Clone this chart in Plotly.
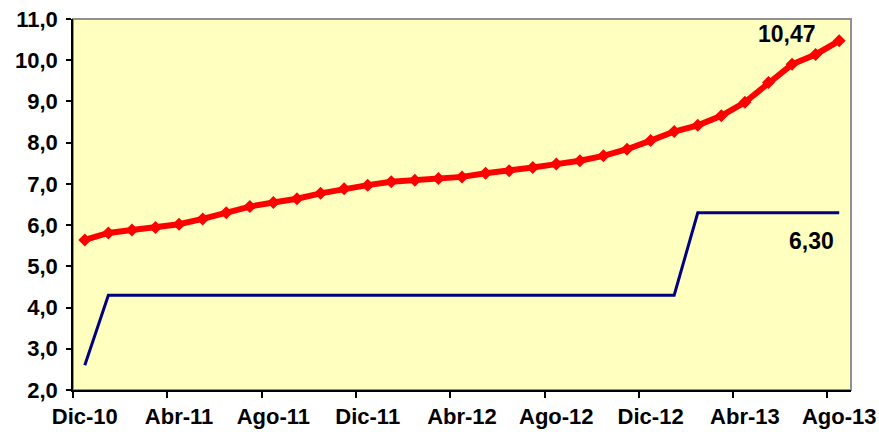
import plotly.graph_objects as go

months = ["Dic-10", "Ene-11", "Feb-11", "Mar-11", "Abr-11", "May-11", "Jun-11", "Jul-11",
          "Ago-11", "Sep-11", "Oct-11", "Nov-11", "Dic-11", "Ene-12", "Feb-12", "Mar-12",
          "Abr-12", "May-12", "Jun-12", "Jul-12", "Ago-12", "Sep-12", "Oct-12", "Nov-12",
          "Dic-12", "Ene-13", "Feb-13", "Mar-13", "Abr-13", "May-13", "Jun-13", "Jul-13",
          "Ago-13"]

red_series = [5.64, 5.81, 5.88, 5.94, 6.02, 6.15, 6.30, 6.45, 6.55, 6.64, 6.77, 6.88,
              6.97, 7.05, 7.09, 7.13, 7.17, 7.26, 7.32, 7.40, 7.48, 7.56, 7.68, 7.84,
              8.05, 8.27, 8.42, 8.65, 8.98, 9.46, 9.90, 10.14, 10.47]

blue_series = [2.6] + [4.3] * 25 + [6.3] * 7

tick_labels = ["Dic-10", "Abr-11", "Ago-11", "Dic-11", "Abr-12", "Ago-12", "Dic-12",
               "Abr-13", "Ago-13"]

x = list(range(len(months)))
tick_pos = [months.index(t) for t in tick_labels]

FONT = "Liberation Sans, Arial"

fig = go.Figure()
fig.add_trace(go.Scatter(x=x, y=blue_series, mode="lines",
                         line=dict(color="#000080", width=3), hoverinfo="skip"))
fig.add_trace(go.Scatter(x=x, y=red_series, mode="lines+markers",
                         line=dict(color="#FF0000", width=6),
                         marker=dict(symbol="diamond", size=10, color="#FF0000"),
                         hoverinfo="skip"))

fig.add_annotation(x=x[-1], y=red_series[-1], text="10,47", showarrow=False,
                   xanchor="center", yanchor="middle", xshift=-52, yshift=7,
                   font=dict(family=FONT, size=23, color="#000000", weight="bold"))
fig.add_annotation(x=x[-1], y=blue_series[-1], text="6,30", showarrow=False,
                   xanchor="center", yanchor="middle", xshift=-28, yshift=-28,
                   font=dict(family=FONT, size=23, color="#000000", weight="bold"))

fig.add_shape(type="rect", xref="paper", yref="paper", x0=0, y0=0, x1=1, y1=1,
              line=dict(color="#909090", width=2), layer="below")

fig.update_layout(
    width=879, height=432,
    margin=dict(l=73, r=28, t=19, b=42, autoexpand=False),
    paper_bgcolor="white",
    plot_bgcolor="#FFFFC0",
    showlegend=False,
    separators=",.",
    font=dict(family=FONT, size=22, color="#000000"),
)
fig.update_xaxes(
    automargin=False,
    range=[-0.5, len(months) - 0.5],
    tickmode="array", tickvals=tick_pos, ticktext=tick_labels,
    ticks="outside", ticklen=6, tickcolor="rgba(0,0,0,0)",
    ticklabeloverflow="allow",
    tickfont=dict(family=FONT, size=22, color="#000000", weight="bold"),
    showgrid=False, zeroline=False,
    showline=True, linecolor="#000000", linewidth=1.5,
    minor=dict(tickmode="array", tickvals=[p - 0.5 for p in tick_pos],
               ticks="outside", ticklen=6, tickcolor="#000000", tickwidth=1.5, showgrid=False),
)
fig.update_yaxes(
    automargin=False,
    range=[2, 11], dtick=1, tick0=2, tickformat=".1f",
    ticks="outside", ticklen=5, tickcolor="#000000", tickwidth=1.5,
    ticklabelstandoff=4, ticklabeloverflow="allow",
    tickfont=dict(family=FONT, size=22, color="#000000", weight="bold"),
    showgrid=False, zeroline=False,
    showline=True, linecolor="#000000", linewidth=1.5,
)

fig.write_html(
    "out.html",
    config={"displayModeBar": False},
    post_script="document.body.style.margin='0';document.body.style.overflow='hidden';",
)
